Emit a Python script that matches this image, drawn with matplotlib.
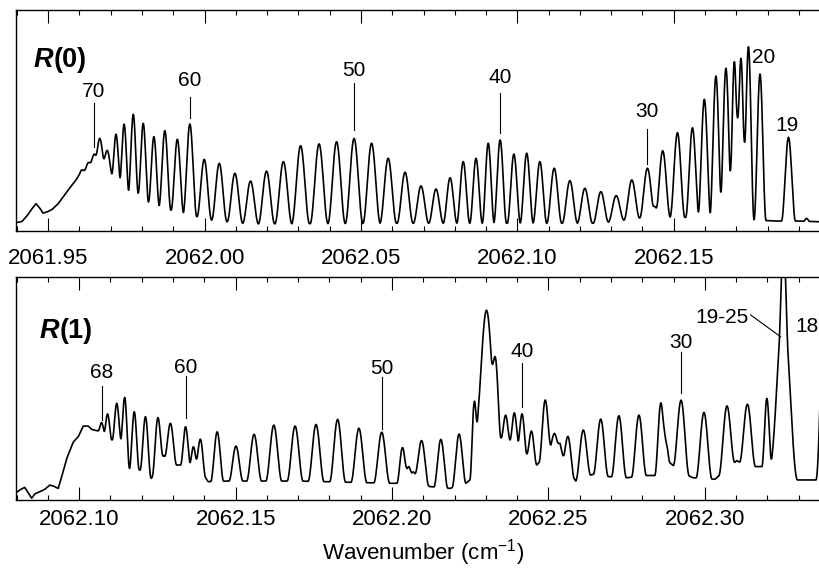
import numpy as np
import matplotlib
matplotlib.use('Agg')
import matplotlib.pyplot as plt
from matplotlib.ticker import MultipleLocator, FormatStrFormatter

plt.rcParams['font.family'] = ['Liberation Sans', 'DejaVu Sans']
plt.rcParams['mathtext.fontset'] = 'custom'
plt.rcParams['mathtext.rm'] = 'Liberation Sans'
plt.rcParams['mathtext.it'] = 'Liberation Sans:italic'
plt.rcParams['mathtext.bf'] = 'Liberation Sans:bold'

# ---- R(0) band: continuum knots (cm-1, rel. intensity) ----
r0_base_wn = [2061.9397, 2061.9416, 2061.9432, 2061.9445, 2061.9461, 2061.9473, 2061.9483,
              2061.9496, 2061.9512, 2061.9531, 2061.9550, 2061.9569, 2061.9589, 2061.9601,
              2061.9614, 2061.9627, 2061.9640, 2061.9659, 2061.9678, 2061.9706, 2061.9727,
              2061.9756, 2061.9788, 2061.9820, 2061.9857, 2061.9891, 2061.9930, 2061.9975,
              2062.0017, 2062.0071, 2062.0119, 2062.0172, 2062.0625, 2062.1264, 2062.1424,
              2062.1584, 2062.1648, 2062.1712, 2062.1760, 2062.1824, 2062.1904, 2062.2000]
r0_base_y = [0.038, 0.043, 0.068, 0.095, 0.124, 0.104, 0.081,
             0.086, 0.097, 0.122, 0.158, 0.195, 0.231, 0.258,
             0.271, 0.294, 0.317, 0.330, 0.320, 0.250, 0.230,
             0.178, 0.170, 0.132, 0.110, 0.095, 0.080, 0.065,
             0.050, 0.042, 0.035, 0.032, 0.035, 0.035, 0.065,
             0.060, 0.060, 0.060, 0.050, 0.045, 0.045, 0.040]

# R(0) lines: position, peak top, FWHM (1e-3 cm-1)
r0_pos = [2061.9607, 2061.9627, 2061.9647, 2061.9665, 2061.9690, 2061.9717, 2061.9743,
          2061.9772, 2061.9804, 2061.9838, 2061.9873, 2061.9913, 2061.9953, 2061.9999,
          2062.0047, 2062.0097, 2062.0147, 2062.0198, 2062.0252, 2062.0307, 2062.0366,
          2062.0422, 2062.0478, 2062.0534, 2062.0587, 2062.0641, 2062.0692, 2062.0740,
          2062.0785, 2062.0827, 2062.0868, 2062.0907, 2062.0945, 2062.0989, 2062.1030,
          2062.1072, 2062.1118, 2062.1168, 2062.1216, 2062.1267, 2062.1316, 2062.1366,
          2062.1416, 2062.1440, 2062.1465, 2062.1512, 2062.1560, 2062.1598, 2062.1635,
          2062.1667, 2062.1694, 2062.1715, 2062.1739, 2062.1776, 2062.1867, 2062.1925]
r0_top = [0.276, 0.308, 0.348, 0.419, 0.363, 0.438, 0.483,
          0.528, 0.487, 0.427, 0.454, 0.415, 0.484, 0.324,
          0.306, 0.261, 0.226, 0.271, 0.314, 0.386, 0.394,
          0.404, 0.419, 0.397, 0.329, 0.266, 0.204, 0.190,
          0.241, 0.314, 0.329, 0.397, 0.412, 0.348, 0.352,
          0.314, 0.284, 0.228, 0.193, 0.178, 0.160, 0.231,
          0.284, 0.110, 0.363, 0.445, 0.467, 0.596, 0.701,
          0.736, 0.766, 0.781, 0.834, 0.710, 0.424, 0.057]
r0_fwhm = [0.96, 0.96, 1.12, 1.44, 1.44, 1.44, 1.50,
           1.60, 1.66, 1.76, 1.92, 2.02, 2.18, 2.34,
           2.46, 2.50, 2.53, 2.62, 2.72, 2.85, 2.85,
           2.78, 2.82, 2.78, 2.66, 2.56, 2.46, 2.34,
           2.21, 2.08, 2.02, 1.92, 2.05, 2.11, 2.11,
           2.21, 2.40, 2.46, 2.46, 2.46, 2.50, 2.50,
           2.46, 0.96, 2.40, 2.37, 2.18, 2.08, 1.98,
           1.98, 1.66, 1.73, 1.79, 1.92, 2.24, 0.96]

# ---- R(1) band ----
r1_base_wn = [2062.0798, 2062.0810, 2062.0826, 2062.0837, 2062.0848, 2062.0858, 2062.0874,
              2062.0890, 2062.0906, 2062.0917, 2062.0933, 2062.0944, 2062.0960, 2062.0981,
              2062.0997, 2062.1013, 2062.1029, 2062.1040, 2062.1056, 2062.1066, 2062.1104,
              2062.1132, 2062.1162, 2062.1194, 2062.1231, 2062.1269, 2062.1311, 2062.1351,
              2062.1375, 2062.1412, 2062.1471, 2062.1706, 2062.1993, 2062.2032, 2062.2068,
              2062.2096, 2062.2121, 2062.2185, 2062.2236, 2062.2249, 2062.2262, 2062.2275,
              2062.2319, 2062.2345, 2062.2377, 2062.2409, 2062.2434, 2062.2463, 2062.2489,
              2062.2511, 2062.2537, 2062.2550, 2062.2587, 2062.2641, 2062.2691, 2062.2752,
              2062.2814, 2062.2840, 2062.2888, 2062.2920, 2062.2961, 2062.3032, 2062.3102,
              2062.3135, 2062.3166, 2062.3208, 2062.3224, 2062.3288, 2062.3400]
r1_base_y = [0.033, 0.045, 0.057, 0.033, 0.008, 0.027, 0.037,
             0.048, 0.067, 0.063, 0.052, 0.104, 0.186, 0.260,
             0.284, 0.332, 0.332, 0.317, 0.311, 0.310, 0.270,
             0.270, 0.135, 0.135, 0.097, 0.200, 0.157, 0.157,
             0.164, 0.082, 0.085, 0.085, 0.075, 0.075, 0.127,
             0.080, 0.060, 0.052, 0.075, 0.090, 0.170, 0.330,
             0.310, 0.280, 0.269, 0.250, 0.200, 0.157, 0.200,
             0.254, 0.254, 0.170, 0.085, 0.115, 0.105, 0.100,
             0.110, 0.110, 0.167, 0.130, 0.100, 0.093, 0.177,
             0.150, 0.150, 0.150, 0.120, 0.090, 0.090]

r1_pos = [2062.1072, 2062.1091, 2062.1120, 2062.1146, 2062.1176, 2062.1212, 2062.1251,
          2062.1292, 2062.1340, 2062.1365, 2062.1388, 2062.1441, 2062.1501, 2062.1559,
          2062.1622, 2062.1690, 2062.1757, 2062.1826, 2062.1894, 2062.1967, 2062.2033,
          2062.2052, 2062.2095, 2062.2156, 2062.2214, 2062.2262, 2062.2302, 2062.2332,
          2062.2363, 2062.2391, 2062.2416, 2062.2446, 2062.2489, 2062.2519, 2062.2563,
          2062.2611, 2062.2667, 2062.2725, 2062.2789, 2062.2859, 2062.2876, 2062.2924,
          2062.2997, 2062.3070, 2062.3136, 2062.3198, 2062.3251, 2062.3251, 2062.3387]
r1_top = [0.347, 0.386, 0.434, 0.459, 0.396, 0.374, 0.369,
          0.344, 0.329, 0.239, 0.272, 0.306, 0.242, 0.295,
          0.336, 0.332, 0.339, 0.362, 0.322, 0.304, 0.235,
          0.149, 0.266, 0.272, 0.296, 0.434, 0.852, 0.598,
          0.381, 0.391, 0.386, 0.309, 0.448, 0.299, 0.284,
          0.314, 0.363, 0.378, 0.381, 0.436, 0.250, 0.448,
          0.393, 0.422, 0.430, 0.456, 0.840, 0.440, 1.090]
r1_fwhm = [1.12, 1.28, 1.44, 1.44, 1.60, 1.76, 1.76,
           1.92, 1.60, 1.28, 1.60, 2.08, 2.24, 2.40,
           2.56, 2.56, 2.56, 2.56, 2.56, 2.56, 1.76,
           1.28, 2.24, 2.24, 2.24, 1.28, 3.52, 1.60,
           1.44, 1.44, 1.44, 1.60, 1.92, 1.28, 1.92,
           2.40, 2.40, 2.40, 2.40, 1.92, 1.28, 2.56,
           2.56, 2.56, 2.56, 1.60, 4.48, 1.50, 3.20]


def spectrum(x, base_wn, base_y, pos, top, fwhm):
    # continuum plus cos^2 shaped lines (FWHM = w, zero beyond +-w)
    y = np.interp(x, base_wn, base_y)
    for p, t, w in zip(pos, top, fwhm):
        amp = t - np.interp(p, base_wn, base_y)
        w = w * 1e-3
        d = np.clip(np.abs(x - p) / w, 0, 1)
        y += amp * np.cos(0.5 * np.pi * d) ** 2
    return y


fig = plt.figure(figsize=(8.2, 5.69), dpi=100)
ax0 = fig.add_axes([16 / 820, 338 / 569, 810 / 820, 221 / 569])
ax1 = fig.add_axes([16 / 820, 69 / 569, 810 / 820, 222.7 / 569])

x0 = np.linspace(2061.9397, 2062.1987, 4000)
x1 = np.linspace(2062.0798, 2062.3387, 4000)
ax0.plot(x0, spectrum(x0, r0_base_wn, r0_base_y, r0_pos, r0_top, r0_fwhm), color='black', lw=1.2)
ax1.plot(x1, spectrum(x1, r1_base_wn, r1_base_y, r1_pos, r1_top, r1_fwhm), color='black', lw=1.2)

ax0.set_xlim(2061.9397, 2062.1987)
ax1.set_xlim(2062.0798, 2062.3387)
for ax, pad in ((ax0, 12), (ax1, 6.5)):
    ax.set_ylim(0, 1)
    ax.set_yticks([])
    ax.xaxis.set_major_locator(MultipleLocator(0.05))
    ax.xaxis.set_minor_locator(MultipleLocator(0.01))
    ax.xaxis.set_major_formatter(FormatStrFormatter('%.2f'))
    ax.tick_params(axis='x', which='both', direction='in', top=True, bottom=True,
                   width=0.8, labelsize=16, pad=pad)
    ax.tick_params(axis='x', which='major', length=9.5)
    ax.tick_params(axis='x', which='minor', length=3.6)
    for s in ax.spines.values():
        s.set_linewidth(1.0)

# line labels: (text, x, line bottom, line top, text baseline)
r0_marks = [('70', 2061.9646, 0.382, 0.581, 0.608), ('60', 2061.9953, 0.510, 0.608, 0.656),
            ('50', 2062.0478, 0.457, 0.671, 0.701), ('40', 2062.0945, 0.443, 0.624, 0.670),
            ('30', 2062.1416, 0.303, 0.462, 0.517)]
r1_marks = [('68', 2062.1072, 0.359, 0.512, 0.546), ('60', 2062.1340, 0.368, 0.557, 0.570),
            ('50', 2062.1967, 0.317, 0.551, 0.566), ('40', 2062.2416, 0.419, 0.616, 0.641),
            ('30', 2062.2923, 0.479, 0.666, 0.683)]
for ax, marks in ((ax0, r0_marks), (ax1, r1_marks)):
    for lab, xm, y0, y1, yt in marks:
        ax.plot([xm, xm], [y0, y1], color='black', lw=0.8)
        ax.text(xm, yt, lab, ha='center', va='baseline', fontsize=15)

ax0.text(2062.1786, 0.761, '20', ha='center', va='baseline', fontsize=15)
ax0.text(2062.1862, 0.452, '19', ha='center', va='baseline', fontsize=15)
ax1.text(2062.3053, 0.795, '19-25', ha='center', va='baseline', fontsize=15)
ax1.plot([2062.3146, 2062.3242], [0.831, 0.733], color='black', lw=0.8)
ax1.text(2062.3362, 0.756, '18', ha='right', va='baseline', fontsize=15)

for ax, tag, xy in ((ax0, '(0)', (0.022, 0.742)), (ax1, '(1)', (0.0295, 0.726))):
    r = ax.text(xy[0], xy[1], 'R', transform=ax.transAxes, fontsize=19.5,
                fontweight='bold', fontstyle='italic', va='baseline')
    ax.annotate(tag, xy=(1, 0), xycoords=r, ha='left', va='bottom',
                fontsize=19.5, fontweight='bold')

fig.text(423.5 / 820, 1 - 553 / 569, 'Wavenumber (cm$^{-1}$)', ha='center', va='center', fontsize=16)

fig.savefig('out.png', dpi=100, facecolor='white')
